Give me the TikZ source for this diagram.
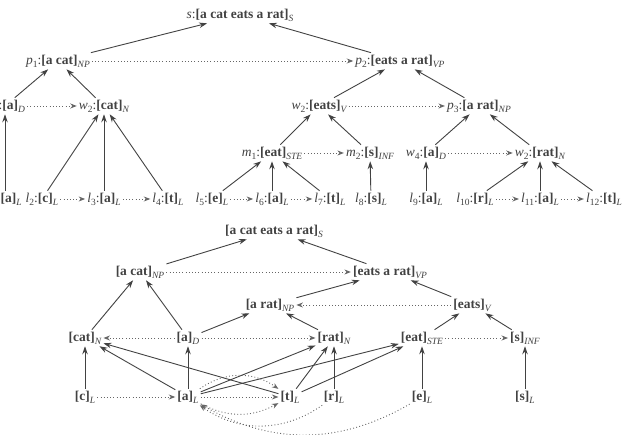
\documentclass[tikz,border=0pt]{standalone}
\usepackage{fontspec}
\setmainfont{Liberation Serif}
\usetikzlibrary{arrows.meta}
\colorlet{ink}{black!74}
\colorlet{soft}{black!60}
\newcommand{\lo}[1]{\raisebox{-.45ex}{\fontsize{9.5}{10}\selectfont #1}}
\newcommand{\br}[2]{\textbf{[#1]}\lo{\itshape #2}}
\newcommand{\ix}[2]{\textit{#1}\lo{#2}:}

\begin{document}
\begin{tikzpicture}[x=1pt, y=-1pt,
  font=\fontsize{13.5}{15}\selectfont,
  every node/.style={text=ink, inner sep=2pt},
  arr/.style={-{Stealth[length=8pt,width=5.5pt]}, line width=0.9pt, ink},
  seq/.style={-{Stealth[length=6.5pt,width=5pt]}, line width=0.9pt, soft,
              dash pattern=on 0.9pt off 2.3pt},
]
\useasboundingbox (0,0) rectangle (625,435);
\clip (0,0) rectangle (625,435);

% upper graph
\node (s)  at (240,15)  {\textit{s}:\br{a cat eats a rat}{S}};
\node (p1) at (58,61)   {\ix{p}{1}\br{a cat}{NP}};
\node (p2) at (400,61)  {\ix{p}{2}\br{eats a rat}{VP}};
\node (w1) at (5,106)   {\ix{w}{1}\br{a}{D}};
\node (w2) at (104,106) {\ix{w}{2}\br{cat}{N}};
\node (w3) at (319,106) {\ix{w}{2}\br{eats}{V}};
\node (p3) at (479,106) {\ix{p}{3}\br{a rat}{NP}};
\node (m1) at (272,153) {\ix{m}{1}\br{eat}{STE}};
\node (m2) at (370,153) {\ix{m}{2}\br{s}{INF}};
\node (w4) at (426,153) {\ix{w}{4}\br{a}{D}};
\node (w5) at (540,153) {\ix{w}{2}\br{rat}{N}};
\node (l1)  at (5,199)   {\ix{l}{1}\br{a}{L}};
\node (l2)  at (42,199)  {\ix{l}{2}\br{c}{L}};
\node (l3)  at (104,199) {\ix{l}{3}\br{a}{L}};
\node (l4)  at (168,199) {\ix{l}{4}\br{t}{L}};
\node (l5)  at (212,199) {\ix{l}{5}\br{e}{L}};
\node (l6)  at (272,199) {\ix{l}{6}\br{a}{L}};
\node (l7)  at (330,199) {\ix{l}{7}\br{t}{L}};
\node (l8)  at (371,199) {\ix{l}{8}\br{s}{L}};
\node (l9)  at (426,199) {\ix{l}{9}\br{a}{L}};
\node (l10) at (475,199) {\ix{l}{10}\br{r}{L}};
\node (l11) at (540,199) {\ix{l}{11}\br{a}{L}};
\node (l12) at (604,199) {\ix{l}{12}\br{t}{L}};

\draw[arr] (p1) -- (s);
\draw[arr] (p2) -- (s);
\draw[arr] (w1) -- (p1);
\draw[arr] (w2) -- (p1);
\draw[arr] (w3) -- (p2);
\draw[arr] (p3) -- (p2);
\draw[arr] (m1) -- (w3);
\draw[arr] (m2) -- (w3);
\draw[arr] (w4) -- (p3);
\draw[arr] (w5) -- (p3);
\draw[arr] (l1) -- (w1);
\draw[arr] (l2) -- (w2);
\draw[arr] (l3) -- (w2);
\draw[arr] (l4) -- (w2);
\draw[arr] (l5) -- (m1);
\draw[arr] (l6) -- (m1);
\draw[arr] (l7) -- (m1);
\draw[arr] (l8) -- (m2);
\draw[arr] (l9) -- (w4);
\draw[arr] (l10) -- (w5);
\draw[arr] (l11) -- (w5);
\draw[arr] (l12) -- (w5);

\draw[seq] (p1) -- (p2);
\draw[seq] (w1) -- (w2);
\draw[seq] (w3) -- (p3);
\draw[seq] (m1) -- (m2);
\draw[seq] (w4) -- (w5);
\draw[seq] (l2) -- (l3);
\draw[seq] (l3) -- (l4);
\draw[seq] (l5) -- (l6);
\draw[seq] (l6) -- (l7);
\draw[seq] (l10) -- (l11);
\draw[seq] (l11) -- (l12);

% lower graph
\node (S)    at (274,231) {\br{a cat eats a rat}{S}};
\node (NP)   at (140,272) {\br{a cat}{NP}};
\node (VP)   at (390,272) {\br{eats a rat}{VP}};
\node (NP2)  at (270,305) {\br{a rat}{NP}};
\node (V)    at (472,305) {\br{eats}{V}};
\node (catN) at (85,338)  {\br{cat}{N}};
\node (aD)   at (188,338) {\br{a}{D}};
\node (ratN) at (334,338) {\br{rat}{N}};
\node (eat)  at (422,338) {\br{eat}{STE}};
\node (sI)   at (525,338) {\br{s}{INF}};
\node (cL)   at (85,397)  {\br{c}{L}};
\node (aL)   at (188,397) {\br{a}{L}};
\node (tL)   at (290,397) {\br{t}{L}};
\node (rL)   at (334,397) {\br{r}{L}};
\node (eL)   at (422,397) {\br{e}{L}};
\node (sL)   at (525,397) {\br{s}{L}};

\draw[arr] (NP) -- (S);
\draw[arr] (VP) -- (S);
\draw[arr] (NP2) -- (VP);
\draw[arr] (V) -- (VP);
\draw[arr] (catN) -- (NP);
\draw[arr] (aD) -- (NP);
\draw[arr] (aD) -- (NP2);
\draw[arr] (ratN) -- (NP2);
\draw[arr] (eat) -- (V);
\draw[arr] (sI) -- (V);
\draw[arr] (cL) -- (catN);
\draw[arr] (aL) -- (catN);
\draw[arr] (tL) -- (catN);
\draw[arr] (aL) -- (aD);
\draw[arr] (aL) -- (ratN);
\draw[arr] (tL) -- (ratN);
\draw[arr] (rL) -- (ratN);
\draw[arr] (aL) -- (eat);
\draw[arr] (tL) -- (eat);
\draw[arr] (eL) -- (eat);
\draw[arr] (sL) -- (sI);

\draw[seq] (NP) -- (VP);
\draw[seq] (V) -- (NP2);
\draw[seq] (aD) -- (catN);
\draw[seq] (aD) -- (ratN);
\draw[seq] (eat) -- (sI);
\draw[seq] (cL) -- (aL);
\draw[seq] (aL) -- (tL);
\draw[seq] (aL) to[bend left=35] (tL);
\draw[seq] (aL) to[bend right=28] (tL);
\draw[seq] (rL) to[bend left=35] (aL);
\draw[seq] (eL) to[bend left=30] (aL);
\end{tikzpicture}
\end{document}
